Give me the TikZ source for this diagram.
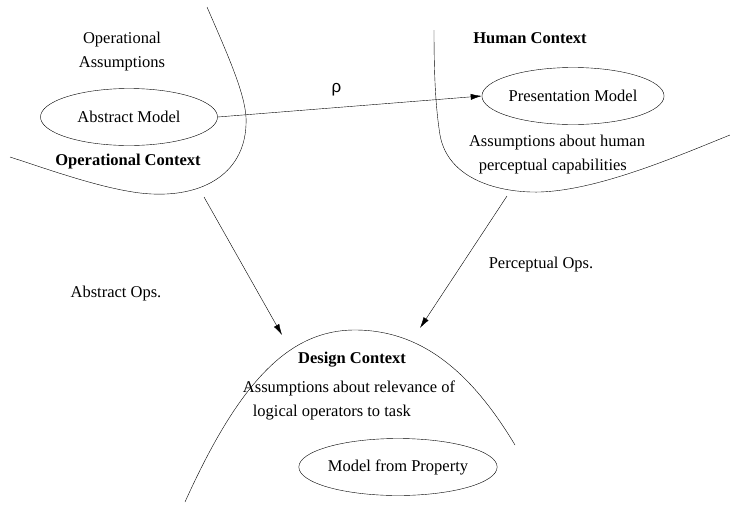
\documentclass[tikz,border=0pt]{standalone}
\usepackage{fontspec}
\setmainfont{Liberation Serif}
\newfontfamily\rhofont{Liberation Sans}
\usetikzlibrary{shapes.geometric,arrows.meta}
\newcommand{\labelsize}{\fontsize{16.5}{24}\selectfont}
\tikzset{
    model/.style={draw, ellipse, inner sep=0pt, minimum width=177pt, minimum height=57pt},
    txt/.style={align=center, inner sep=0pt},
    ctx/.style={txt, font=\labelsize\bfseries},
    op/.style={-{Latex[length=11pt,width=6pt]}}
}

\begin{document}
\begin{tikzpicture}[x=1pt, y=-1pt, font=\labelsize]
    \useasboundingbox (0, 0) rectangle (730, 504);
    % Operational context
    \draw (207, 7) .. controls (230, 60) and (248, 100) .. (246, 125)
        .. controls (244, 175) and (200, 200) .. (140, 193)
        .. controls (100, 188) and (50, 170) .. (10, 157);
    \node[txt] (opassume) at (122, 52) {Operational\\Assumptions};
    \node[model] (abstract) at (129, 117) {Abstract Model};
    \node[ctx] (opctx) at (128, 162) {Operational Context};
    % Human context
    \draw (434, 30) .. controls (434, 80) and (436, 110) .. (440, 135)
        .. controls (448, 180) and (500, 193) .. (540, 192)
        .. controls (600, 190) and (680, 155) .. (730, 135);
    \node[ctx] (humctx) at (530, 38) {Human Context};
    \node[model] (present) at (573, 96) {Presentation Model};
    \node[txt, align=left] (humassume) at (557, 155) {Assumptions about human\\\hspace*{0.6em}perceptual capabilities};
    % Design context
    \draw (185, 502) .. controls (240, 380) and (290, 330) .. (355, 330)
        .. controls (420, 330) and (470, 370) .. (515, 445);
    \node[ctx] (desctx) at (352, 360) {Design Context};
    \node[txt, align=left] (desassume) at (349, 400) {Assumptions about relevance of\\\hspace*{0.6em}logical operators to task};
    \node[model, minimum width=174pt] (property) at (398, 467) {Model from Property};
    % Mappings between contexts
    \draw[op] (abstract.east) -- (present.west) node[pos=0.45, above=8pt, font=\fontsize{17}{18}\rhofont] (rho) {ρ};
    \coordinate (absfrom) at (204, 197);
    \coordinate (absto) at (282, 335);
    \coordinate (perfrom) at (507, 196);
    \coordinate (perto) at (420, 328);
    \draw[op] (absfrom) -- (absto);
    \draw[op] (perfrom) -- (perto);
    \node[txt] (absops) at (116, 294) {Abstract Ops.};
    \node[txt] (perops) at (541, 265) {Perceptual Ops.};
\end{tikzpicture}
\end{document}
